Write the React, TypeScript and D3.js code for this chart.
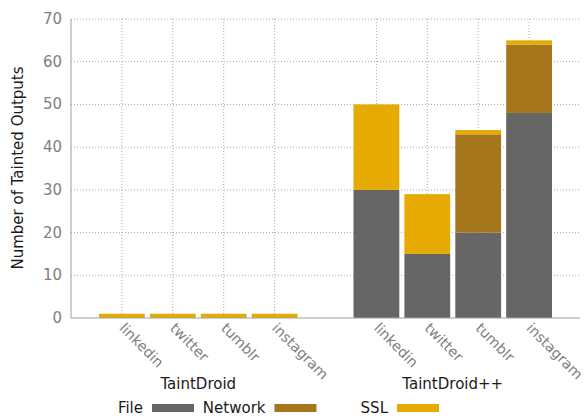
import * as d3 from "d3";
import React, { useEffect, useRef } from "react";

const groups = ["TaintDroid", "TaintDroid++"];
const apps = ["linkedin", "twitter", "tumblr", "instagram"];
const series = ["File", "Network", "SSL"];
// one entry per bar: TaintDroid x4, then TaintDroid++ x4
const fileValues = [0, 0, 0, 0, 30, 15, 20, 48];
const networkValues = [0, 0, 0, 0, 0, 0, 23, 16];
const sslValues = [1, 1, 1, 1, 20, 14, 1, 1];
const yTicks = [0, 10, 20, 30, 40, 50, 60, 70];

const colors = ["#666666", "#a6761d", "#e6ab02"];
const font = "'DejaVu Sans', Verdana, sans-serif";

export default function App() {
  const svgRef = useRef<SVGSVGElement>(null);

  useEffect(() => {
    document.body.style.margin = "0";
    const width = 584;
    const height = 417;
    const left = 71;
    const right = 580;
    const top = 19;
    const bottom = 318;

    const svg = d3.select(svgRef.current);
    svg.selectAll("*").remove();
    svg.attr("width", width).attr("height", height);

    // slot index per bar (one empty slot between groups)
    const rows = fileValues.map((_, i) => ({
      group: Math.floor(i / apps.length),
      app: apps[i % apps.length],
      slot: Math.floor(i / apps.length) * (apps.length + 1) + (i % apps.length),
      File: fileValues[i],
      Network: networkValues[i],
      SSL: sslValues[i],
    }));

    const x = d3.scaleLinear().domain([-1, 9]).range([left, right]);
    const y = d3.scaleLinear().domain([0, 70]).range([bottom, top]);
    const barW = (x(1) - x(0)) * 0.9;

    // grid
    svg
      .append("g")
      .selectAll("line")
      .data(yTicks.filter((t) => t > 0))
      .join("line")
      .attr("x1", left)
      .attr("x2", right)
      .attr("y1", (d) => y(d))
      .attr("y2", (d) => y(d))
      .attr("stroke", "#a8a8a8")
      .attr("stroke-dasharray", "1,2");

    svg
      .append("g")
      .selectAll("line")
      .data(rows)
      .join("line")
      .attr("x1", (d) => x(d.slot))
      .attr("x2", (d) => x(d.slot))
      .attr("y1", top)
      .attr("y2", bottom)
      .attr("stroke", "#a8a8a8")
      .attr("stroke-dasharray", "1,2");

    // stacked bars
    const stacked = d3.stack<any>().keys(series)(rows);
    svg
      .append("g")
      .selectAll("g")
      .data(stacked)
      .join("g")
      .attr("fill", (_, i) => colors[i])
      .selectAll("rect")
      .data((d) => d)
      .join("rect")
      .attr("x", (d) => x(d.data.slot) - barW / 2)
      .attr("width", barW)
      .attr("y", (d) => y(d[1]))
      .attr("height", (d) => y(d[0]) - y(d[1]));

    // axes lines
    svg
      .append("line")
      .attr("x1", left)
      .attr("x2", left)
      .attr("y1", top)
      .attr("y2", bottom)
      .attr("stroke", "#a0a0a0");
    svg
      .append("line")
      .attr("x1", left)
      .attr("x2", right)
      .attr("y1", bottom)
      .attr("y2", bottom)
      .attr("stroke", "#a0a0a0");

    // y tick labels
    svg
      .append("g")
      .selectAll("text")
      .data(yTicks)
      .join("text")
      .attr("x", left - 9)
      .attr("y", (d) => y(d) + 5)
      .attr("text-anchor", "end")
      .attr("font-family", font)
      .attr("font-size", 15)
      .attr("fill", "#808080")
      .text((d) => d);

    // x tick labels, rotated
    svg
      .append("g")
      .selectAll("text")
      .data(rows)
      .join("text")
      .attr("transform", (d) => `translate(${x(d.slot) - 3.5},${bottom + 11}) rotate(45)`)
      .attr("font-family", font)
      .attr("font-size", 14.3)
      .attr("fill", "#808080")
      .text((d) => d.app);

    // group labels
    svg
      .append("g")
      .selectAll("text")
      .data(groups)
      .join("text")
      .attr("x", (_, g) => (x(g * 5) + x(g * 5 + 3)) / 2)
      .attr("y", 389)
      .attr("text-anchor", "middle")
      .attr("font-family", font)
      .attr("font-size", 15)
      .attr("fill", "#1a1a1a")
      .text((d) => d);

    // y axis title
    svg
      .append("text")
      .attr("transform", `translate(23,168) rotate(-90)`)
      .attr("text-anchor", "middle")
      .attr("font-family", font)
      .attr("font-size", 15)
      .attr("fill", "#1a1a1a")
      .text("Number of Tainted Outputs");

    // legend
    const legend = svg
      .append("g")
      .selectAll("g")
      .data(series)
      .join("g")
      .attr("transform", (_, i) => `translate(${152 + i * 122.5},0)`);
    legend
      .append("rect")
      .attr("x", 0)
      .attr("y", 404)
      .attr("width", 42)
      .attr("height", 8)
      .attr("fill", (_, i) => colors[i]);
    legend
      .append("text")
      .attr("x", -9)
      .attr("y", 413)
      .attr("text-anchor", "end")
      .attr("font-family", font)
      .attr("font-size", 15)
      .attr("fill", "#1a1a1a")
      .text((d) => d);
  }, []);

  return <svg ref={svgRef} style={{ display: "block" }} />;
}
